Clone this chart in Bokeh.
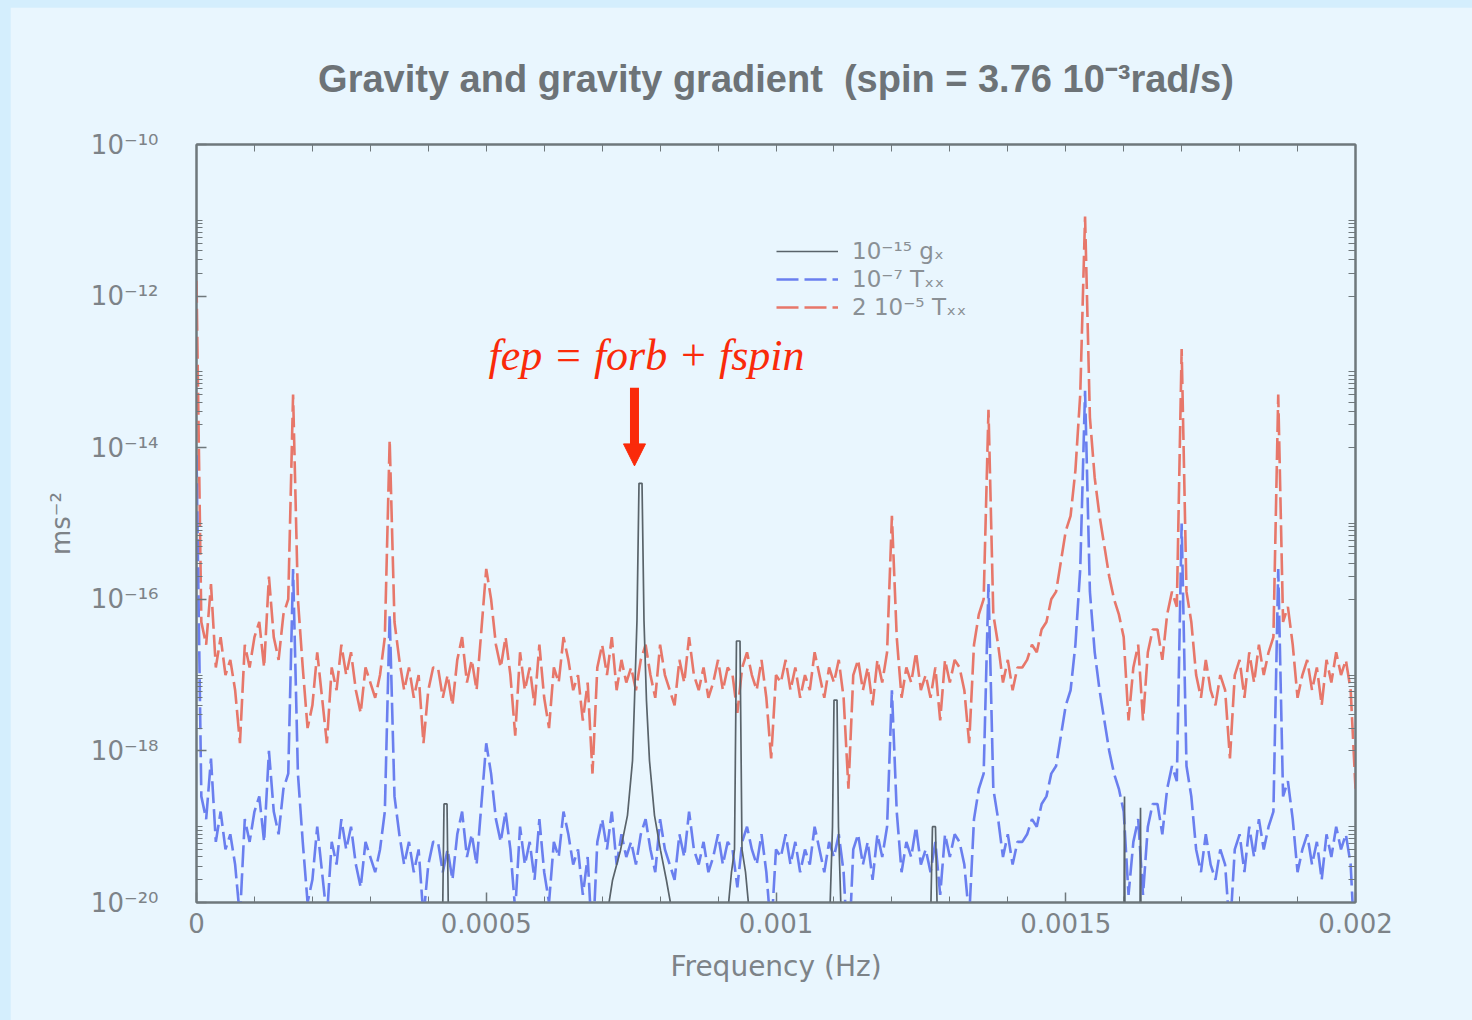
import numpy as np
from bokeh.plotting import figure
from bokeh.models import (Range1d, FixedTicker, LogAxis, LinearAxis, CustomJSTickFormatter,
                          Legend, LegendItem, Label, Arrow, NormalHead)
from bokeh.layouts import column
from bokeh.embed import file_html
from bokeh.resources import INLINE

# ---------------- data ----------------
f_max = 0.002          # Hz
n_steps = 240          # uniform frequency grid of the Txx spectrum

# log10 of Txx spectrum
txx_log = [
    -7.1, -11.6, -11.9, -11.1, -12.2, -11.8, -12.3, -12.1, -12.5, -13.2,
    -11.9, -12.2, -11.8, -11.6, -12.2, -11.0, -11.8, -12.1, -11.5, -11.3,
    -8.6, -11.3, -12.2, -13.0, -12.7, -12.0, -12.6, -13.2, -12.2, -12.5,
    -11.9, -12.3, -12.0, -12.5, -12.8, -12.2, -12.4, -12.6, -12.3, -11.8,
    -9.2, -11.6, -12.1, -12.5, -12.2, -12.6, -12.3, -13.2, -12.5, -12.2,
    -12.2, -12.6, -12.3, -12.7, -12.1, -11.8, -12.4, -12.1, -12.5, -11.7,
    -10.9, -11.3, -11.9, -12.2, -11.8, -12.3, -13.1, -12.0, -12.5, -12.2,
    -12.7, -11.9, -12.6, -13.0, -12.2, -12.4, -11.8, -12.1, -12.5, -12.3,
    -12.9, -12.4, -13.6, -12.2, -11.9, -12.3, -11.8, -12.5, -12.1, -12.4,
    -12.2, -12.5, -12.1, -11.9, -12.3, -12.6, -11.9, -12.3, -12.5, -12.7,
    -12.1, -12.4, -11.8, -12.3, -12.5, -12.2, -12.6, -12.4, -12.1, -12.5,
    -12.2, -12.3, -12.8, -12.2, -12.0, -12.3, -12.5, -12.1, -12.6, -13.4,
    -12.3, -12.4, -12.1, -12.5, -12.2, -12.6, -12.3, -12.5, -12.0, -12.3,
    -12.6, -12.2, -12.4, -12.1, -12.6, -13.8, -12.3, -12.1, -12.5, -12.2,
    -12.7, -12.1, -12.4, -12.0, -10.2, -11.8, -12.6, -12.2, -12.4, -12.0,
    -12.5, -12.3, -12.6, -12.2, -12.9, -12.1, -12.4, -12.1, -12.2, -12.5,
    -13.2, -11.9, -11.5, -11.3, -8.8, -11.5, -11.9, -12.4, -12.1, -12.5,
    -12.2, -12.2, -12.1, -11.9, -12.0, -11.7, -11.6, -11.3, -11.2, -10.8,
    -10.4, -10.2, -9.6, -8.6, -6.25, -8.9, -9.7, -10.2, -10.6, -11.0,
    -11.3, -11.5, -11.8, -12.9, -12.2, -11.9, -12.9, -12.0, -11.7, -11.7,
    -12.1, -11.5, -11.2, -11.4, -8.0, -11.2, -11.6, -12.3, -12.6, -12.1,
    -12.5, -12.7, -12.3, -12.5, -13.4, -12.3, -12.1, -12.6, -12.0, -12.4,
    -11.9, -12.3, -12.0, -11.8, -8.6, -11.6, -11.4, -11.9, -12.6, -12.3,
    -12.1, -12.5, -12.2, -12.7, -12.1, -12.4, -12.0, -12.3, -12.1, -12.5,
    -13.8,
]

# gx spectrum: frequencies (Hz) and log10 values where it rises into view
gx_freq = [
    0.0004245, 0.0004271, 0.0004323, 0.0004349,
    0.0007058, 0.0007178, 0.0007317, 0.0007437, 0.0007524, 0.0007558, 0.0007601,
    0.0007636, 0.0007688, 0.0007722, 0.0007765, 0.0007817, 0.0007903, 0.0008007,
    0.0008110, 0.0008248,
    0.0009146, 0.0009232, 0.0009284, 0.0009318, 0.0009379, 0.0009413, 0.0009474, 0.0009560,
    0.0010923, 0.0010975, 0.0011001, 0.0011053, 0.0011078, 0.0011130,
    0.0012666, 0.0012700, 0.0012752, 0.0012787,
    0.0016005, 0.0016014, 0.0016022,
    0.0016281, 0.0016290, 0.0016298,
]
gx_log = [
    -5.3, -3.7, -3.7, -5.3,
    -5.3, -4.71, -4.31, -3.85, -3.13, -2.34, -1.28,
    0.53, 0.53, -1.28, -2.34, -3.13, -3.85, -4.31,
    -4.71, -5.3,
    -5.3, -4.6, -4.3, -1.55, -1.55, -4.3, -4.6, -5.3,
    -5.3, -4.0, -2.33, -2.33, -4.0, -5.3,
    -5.3, -4.0, -4.0, -5.3,
    -5.3, -3.6, -5.3,
    -5.3, -3.75, -5.3,
]

scale_gx = 1e-15       # 10^-15 gx
scale_blue = 1e-7      # 10^-7 Txx
scale_red = 2e-5       # 2 10^-5 Txx

x_ticks = [0, 0.0005, 0.001, 0.0015, 0.002]
y_ticks = [1e-20, 1e-18, 1e-16, 1e-14, 1e-12, 1e-10]

freq = np.linspace(0.0, f_max, n_steps + 1)
txx = 10.0 ** np.array(txx_log)
red_vals = scale_red * txx
blue_vals = scale_blue * txx
gx_vals = scale_gx * 10.0 ** np.array(gx_log)

# ---------------- style ----------------
OUTER = "#d4eefd"
INNER = "#e9f6fe"
AXC = "#6f787c"
TXT = "#7d8388"
RED = "#e7776a"
BLUE = "#6a7fef"
BLACK = "#59636a"
ANN = "#fa2a0a"
FONT = "DejaVu Sans"

p = figure(width=1462, height=1013, y_axis_type="log",
           x_range=Range1d(0, f_max), y_range=Range1d(1e-20, 1e-10),
           output_backend="svg", toolbar_location=None,
           background_fill_color=INNER, border_fill_color=INNER,
           min_border_left=186, min_border_right=117,
           min_border_top=137, min_border_bottom=118)
p.margin = (7, 0, 0, 10)
p.grid.visible = False
p.outline_line_color = AXC
p.outline_line_width = 2

p.title.text = "Gravity and gravity gradient \u00a0(spin = 3.76 10\u207b\u00b3rad/s)"
p.title.text_font = "Liberation Sans"
p.title.text_font_size = "38px"
p.title.text_font_style = "bold"
p.title.text_color = "#6d7377"
p.title.align = "center"
p.title.standoff = 90

bottom = p.below[0]
left = p.left[0]

xt = FixedTicker(ticks=x_ticks, minor_ticks=[round(i * 0.0001, 4) for i in range(21)])
minor_y = [k * 10.0 ** e for e in (-20, -18, -16, -14, -12) for k in range(2, 11)]
yt = FixedTicker(ticks=y_ticks, minor_ticks=minor_y)

yfmt = CustomJSTickFormatter(code="""
const sup = {"0":"\u2070","1":"\u00b9","2":"\u00b2","3":"\u00b3","4":"\u2074","5":"\u2075",
             "6":"\u2076","7":"\u2077","8":"\u2078","9":"\u2079","-":"\u207b"};
const e = Math.round(Math.log10(tick));
return "10" + String(e).split("").map(c => sup[c]).join("");
""")
xfmt = CustomJSTickFormatter(code="""
if (Math.abs(tick) < 1e-12) { return "0"; }
return String(parseFloat(tick.toPrecision(6)));
""")

bottom.ticker = xt
bottom.formatter = xfmt
left.ticker = yt
left.formatter = yfmt

# mirrored frame ticks (no labels): every tick drawn as a minor tick
right = LogAxis(ticker=FixedTicker(ticks=[], minor_ticks=y_ticks + minor_y))
top = LinearAxis(ticker=FixedTicker(ticks=[], minor_ticks=[round(i * 0.0001, 4) for i in range(21)]))
p.add_layout(right, "right")
p.add_layout(top, "above")

for ax in [bottom, left, right, top]:
    ax.axis_line_color = AXC
    ax.axis_line_width = 2
    ax.major_tick_line_color = AXC
    ax.minor_tick_line_color = AXC
    ax.major_tick_line_width = 1.5
    ax.minor_tick_line_width = 1
    ax.major_tick_in = 10
    ax.major_tick_out = 0
    ax.minor_tick_in = 6
    ax.minor_tick_out = 0
    ax.major_label_text_font = FONT
    ax.major_label_text_font_size = "26px"
    ax.major_label_text_color = TXT
    ax.axis_label_text_font = FONT
    ax.axis_label_text_font_style = "normal"
    ax.axis_label_text_color = TXT
right.minor_tick_in = 7
top.minor_tick_in = 7

bottom.axis_label = "Frequency (Hz)"
bottom.axis_label_text_font_size = "28px"
bottom.major_label_standoff = 10
bottom.axis_label_standoff = 14
left.axis_label = "ms\u207b\u00b2"
left.axis_label_text_font_size = "26px"
left.major_label_standoff = 38
left.axis_label_standoff = 12

r_red = p.line(freq, red_vals, line_color=RED, line_width=2.6, line_dash="22 6")
r_blue = p.line(freq, blue_vals, line_color=BLUE, line_width=2.6, line_dash="22 6")
r_black = p.line(gx_freq, gx_vals, line_color=BLACK, line_width=1.7)

legend = Legend(items=[
    LegendItem(label="10\u207b\u00b9\u2075 g\u2093", renderers=[r_black]),
    LegendItem(label="10\u207b\u2077 T\u2093\u2093", renderers=[r_blue]),
    LegendItem(label="2 10\u207b\u2075 T\u2093\u2093", renderers=[r_red]),
], location=(580, 581))
legend.background_fill_alpha = 0
legend.border_line_alpha = 0
legend.padding = 0
legend.margin = 0
legend.spacing = 0
legend.glyph_width = 62
legend.glyph_height = 28
legend.label_height = 28
legend.label_standoff = 14
legend.label_text_font = FONT
legend.label_text_font_size = "23px"
legend.label_text_color = "#8a9095"
p.add_layout(legend)

p.add_layout(Label(x=0.0007765, y=10 ** -12.784, text="fep = forb + fspin",
                   text_font="Liberation Serif", text_font_style="italic",
                   text_font_size="44px", text_color=ANN,
                   text_align="center", text_baseline="alphabetic"))
p.add_layout(Arrow(x_start=0.0007558, y_start=10 ** -13.21,
                   x_end=0.0007558, y_end=10 ** -14.24,
                   line_color=ANN, line_width=9,
                   end=NormalHead(size=22, fill_color=ANN, line_color=ANN, line_width=1)))

root = column(p, styles={"background-color": OUTER})
root.width = 1472
root.height = 1020

open("out.html", "w").write(file_html(root, INLINE))
